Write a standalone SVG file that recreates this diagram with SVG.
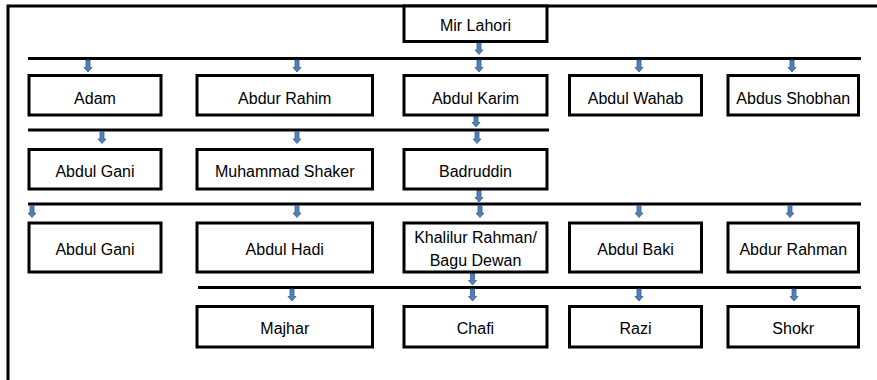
<svg xmlns="http://www.w3.org/2000/svg" width="877" height="380" viewBox="0 0 877 380">
<defs>
<style>
.box{fill:#fff;stroke:#000;stroke-width:3}
.ln{stroke:#000;stroke-width:3;fill:none}
.t{font-family:"Liberation Sans",Arial,sans-serif;font-size:16px;fill:#000;text-anchor:middle}
.ar{fill:#4F81BD;stroke:#385D8A;stroke-width:0.8}
</style>
<path id="arr" d="M-2,0 H2 V7.5 H4 L0,12 L-4,7.5 H-2 Z"/>
</defs>
<rect width="877" height="380" fill="#fff"/>
<g id="frame">
<path class="ln" d="M8,380 V6 H877"/>
</g>
<g id="connectors">
<line class="ln" x1="28" y1="58.5" x2="861" y2="58.5"/>
<line class="ln" x1="28" y1="130" x2="549" y2="130"/>
<line class="ln" x1="28" y1="204" x2="861" y2="204"/>
<line class="ln" x1="198" y1="287.5" x2="861" y2="287.5"/>
<g class="ar">
<use href="#arr" x="479" y="42.5"/>
<use href="#arr" x="88" y="60"/>
<use href="#arr" x="297" y="60"/>
<use href="#arr" x="479" y="60"/>
<use href="#arr" x="639" y="60"/>
<use href="#arr" x="792" y="60"/>
<use href="#arr" x="476" y="115"/>
<use href="#arr" x="102" y="131.5"/>
<use href="#arr" x="297" y="131.5"/>
<use href="#arr" x="477" y="131.5"/>
<use href="#arr" x="479" y="190"/>
<use href="#arr" x="32" y="205.5"/>
<use href="#arr" x="297" y="205.5"/>
<use href="#arr" x="480" y="205.5"/>
<use href="#arr" x="639" y="205.5"/>
<use href="#arr" x="790" y="205.5"/>
<use href="#arr" x="472.5" y="273"/>
<use href="#arr" x="292" y="289"/>
<use href="#arr" x="472.5" y="289"/>
<use href="#arr" x="639" y="289"/>
<use href="#arr" x="794" y="289"/>
</g>
</g>
<g id="mir-lahori"><rect class="box" x="404" y="6" width="143" height="35.5"/><text class="t" x="475.5" y="31">Mir Lahori</text></g>
<g id="adam"><rect class="box" x="29" y="75.5" width="132" height="39.5"/><text class="t" x="95" y="104">Adam</text></g>
<g id="abdur-rahim"><rect class="box" x="197" y="75.5" width="175.5" height="39.5"/><text class="t" x="284.75" y="104">Abdur Rahim</text></g>
<g id="abdul-karim"><rect class="box" x="404" y="75.5" width="143" height="39.5"/><text class="t" x="475.5" y="104">Abdul Karim</text></g>
<g id="abdul-wahab"><rect class="box" x="569.5" y="75.5" width="132" height="39.5"/><text class="t" x="635.5" y="104">Abdul Wahab</text></g>
<g id="abdus-shobhan"><rect class="box" x="728" y="75.5" width="130.5" height="39.5"/><text class="t" x="793.25" y="104">Abdus Shobhan</text></g>
<g id="abdul-gani-1"><rect class="box" x="29" y="149.5" width="132" height="39.5"/><text class="t" x="95" y="176.5">Abdul Gani</text></g>
<g id="muhammad-shaker"><rect class="box" x="197" y="149.5" width="175.5" height="39.5"/><text class="t" x="284.75" y="176.5">Muhammad Shaker</text></g>
<g id="badruddin"><rect class="box" x="404" y="149.5" width="143" height="39.5"/><text class="t" x="475.5" y="176.5">Badruddin</text></g>
<g id="abdul-gani-2"><rect class="box" x="29" y="223" width="132" height="49"/><text class="t" x="95" y="255">Abdul Gani</text></g>
<g id="abdul-hadi"><rect class="box" x="197" y="223" width="175.5" height="49"/><text class="t" x="284.75" y="255">Abdul Hadi</text></g>
<g id="khalilur-rahman"><rect class="box" x="404" y="223" width="143" height="49"/><text class="t" x="475.5" y="242.5">Khalilur Rahman/</text><text class="t" x="475.5" y="266">Bagu Dewan</text></g>
<g id="abdul-baki"><rect class="box" x="569.5" y="223" width="132" height="49"/><text class="t" x="635.5" y="255">Abdul Baki</text></g>
<g id="abdur-rahman"><rect class="box" x="728" y="223" width="130.5" height="49"/><text class="t" x="793.25" y="255">Abdur Rahman</text></g>
<g id="majhar"><rect class="box" x="197" y="306.5" width="175.5" height="40.5"/><text class="t" x="284.75" y="334">Majhar</text></g>
<g id="chafi"><rect class="box" x="404" y="306.5" width="143" height="40.5"/><text class="t" x="475.5" y="334">Chafi</text></g>
<g id="razi"><rect class="box" x="569.5" y="306.5" width="132" height="40.5"/><text class="t" x="635.5" y="334">Razi</text></g>
<g id="shokr"><rect class="box" x="728" y="306.5" width="130.5" height="40.5"/><text class="t" x="793.25" y="334">Shokr</text></g>
</svg>
